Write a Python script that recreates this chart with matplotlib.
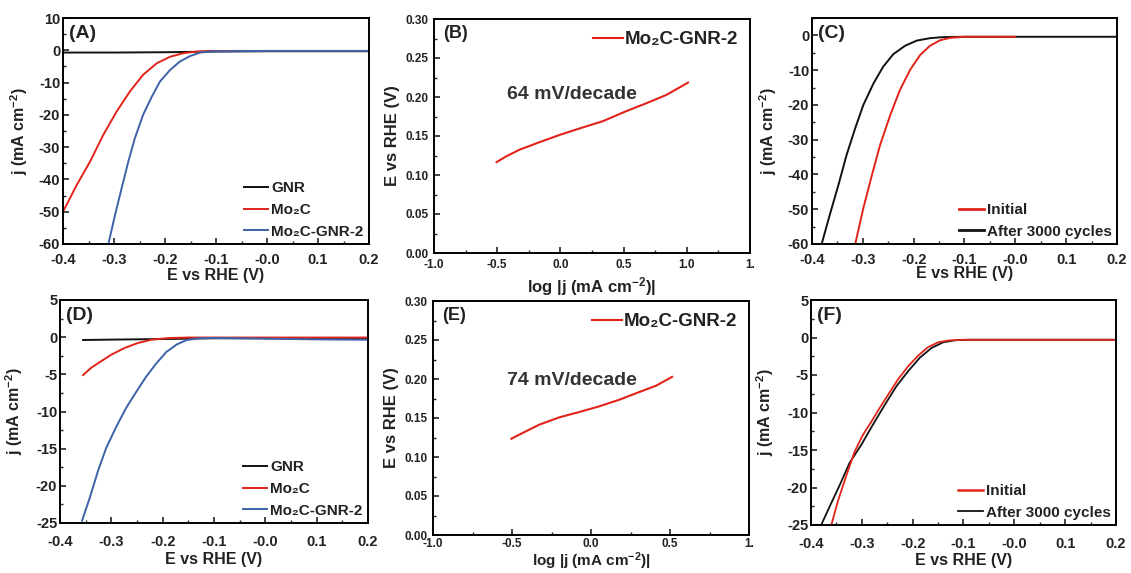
import matplotlib
matplotlib.use('Agg')
import matplotlib.pyplot as plt
import numpy as np
from matplotlib.ticker import MultipleLocator

plt.rcParams['font.family'] = ['Liberation Sans', 'DejaVu Sans']
plt.rcParams['font.weight'] = 'bold'
plt.rcParams['axes.labelweight'] = 'bold'
plt.rcParams['axes.linewidth'] = 1.4
plt.rcParams['axes.unicode_minus'] = False
plt.rcParams['text.color'] = '#222222'
plt.rcParams['axes.labelcolor'] = '#222222'
plt.rcParams['xtick.color'] = '#222222'
plt.rcParams['ytick.color'] = '#222222'
plt.rcParams['mathtext.fontset'] = 'custom'
plt.rcParams['mathtext.rm'] = 'Liberation Sans:bold'
plt.rcParams['mathtext.bf'] = 'Liberation Sans:bold'
plt.rcParams['mathtext.default'] = 'bf'

RED = '#e2231a'
BLUE = '#3d62a8'
BLACK = '#111111'

# ---- (A) polarization curves ----
a_gnr_x = [-0.40, -0.30, -0.20, -0.10, 0.00, 0.10, 0.20]
a_gnr_y = [-0.7, -0.7, -0.6, -0.4, -0.3, -0.3, -0.3]
a_mo_x = [-0.400, -0.373, -0.347, -0.321, -0.295, -0.269, -0.243, -0.216, -0.190,
          -0.164, -0.138, -0.110, 0.0, 0.2]
a_mo_y = [-50.0, -41.7, -34.5, -26.2, -19.0, -12.8, -7.6, -4.0, -2.0,
          -0.9, -0.4, -0.2, -0.2, -0.2]
a_gr_x = [-0.311, -0.298, -0.285, -0.272, -0.259, -0.243, -0.226, -0.210, -0.190,
          -0.171, -0.151, -0.131, -0.105, 0.0, 0.2]
a_gr_y = [-60.0, -51.0, -42.7, -34.5, -27.2, -20.0, -14.4, -9.7, -6.1,
          -3.5, -1.8, -0.7, -0.3, -0.2, -0.2]

# ---- (B) Tafel ----
b_x = [-0.505, -0.431, -0.325, -0.167, 0.005, 0.177, 0.336, 0.508, 0.680, 0.839, 1.01]
b_y = [0.1165, 0.1237, 0.1323, 0.142, 0.152, 0.161, 0.169, 0.181, 0.192, 0.2027, 0.2185]

# ---- (C) stability ----
c_ini_x = [-0.315, -0.299, -0.282, -0.266, -0.246, -0.227, -0.207, -0.187, -0.168,
           -0.148, -0.128, -0.100, 0.0]
c_ini_y = [-60.0, -49.7, -40.1, -31.5, -22.9, -15.7, -9.9, -5.6, -3.0,
           -1.4, -0.7, -0.4, -0.4]
c_aft_x = [-0.381, -0.365, -0.348, -0.332, -0.315, -0.299, -0.279, -0.260, -0.240,
           -0.217, -0.194, -0.168, -0.142, -0.100, 0.0, 0.2]
c_aft_y = [-60.0, -51.6, -43.0, -34.4, -26.7, -20.0, -13.8, -9.0, -5.4,
           -3.0, -1.5, -0.8, -0.5, -0.4, -0.4, -0.4]

# ---- (D) polarization curves ----
d_gnr_x = [-0.355, -0.30, -0.20, -0.10, 0.00, 0.10, 0.20]
d_gnr_y = [-0.38, -0.33, -0.25, -0.15, -0.15, -0.2, -0.25]
d_mo_x = [-0.355, -0.339, -0.319, -0.300, -0.274, -0.248, -0.222, -0.189, -0.15, 0.0, 0.2]
d_mo_y = [-5.1, -4.1, -3.2, -2.35, -1.45, -0.78, -0.34, -0.12, -0.05, -0.05, -0.05]
d_gr_x = [-0.357, -0.342, -0.326, -0.310, -0.290, -0.271, -0.251, -0.232, -0.212,
          -0.193, -0.173, -0.154, -0.131, -0.10, 0.0, 0.1, 0.2]
d_gr_y = [-24.7, -21.6, -18.0, -14.9, -12.0, -9.5, -7.3, -5.3, -3.5,
          -2.0, -1.0, -0.4, -0.15, -0.1, -0.2, -0.3, -0.35]

# ---- (E) Tafel ----
e_x = [-0.504, -0.434, -0.328, -0.201, -0.074, 0.053, 0.180, 0.307, 0.413, 0.513]
e_y = [0.1234, 0.1307, 0.1414, 0.1508, 0.1577, 0.165, 0.1735, 0.1834, 0.1915, 0.2027]

# ---- (F) stability ----
f_ini_x = [-0.360, -0.347, -0.330, -0.314, -0.298, -0.281, -0.265, -0.248, -0.229,
           -0.209, -0.189, -0.170, -0.150, -0.130, -0.10, 0.0, 0.2]
f_ini_y = [-25.0, -21.8, -18.3, -15.2, -13.0, -11.2, -9.4, -7.6, -5.6,
           -3.85, -2.4, -1.3, -0.64, -0.4, -0.3, -0.3, -0.3]
f_aft_x = [-0.380, -0.363, -0.343, -0.324, -0.301, -0.278, -0.255, -0.232, -0.209,
           -0.186, -0.163, -0.140, -0.117, -0.09, 0.0, 0.2]
f_aft_y = [-25.0, -22.5, -19.6, -16.7, -14.3, -11.6, -9.0, -6.5, -4.5,
           -2.7, -1.4, -0.64, -0.37, -0.3, -0.3, -0.3]

W, H = 1131, 573
fig = plt.figure(figsize=(W / 100, H / 100), dpi=100)


def make_ax(l, r, t, b):
    return fig.add_axes([l / W, 1 - b / H, (r - l) / W, (b - t) / H])


def style(ax, size, xpad, ypad):
    ax.tick_params(which='both', direction='in', top=False, right=False, labelsize=size)
    ax.tick_params(axis='x', which='major', pad=xpad)
    ax.tick_params(axis='y', which='major', pad=ypad)
    ax.tick_params(which='major', length=4, width=1.2)
    ax.tick_params(which='minor', length=2, width=1.0)


JLAB = 'j (mA cm$^{-2}$)'
MO = 'Mo\u2082C'
LEG = dict(frameon=False, handlelength=1.6, handletextpad=0.2, borderpad=0.0,
           labelspacing=0.5, borderaxespad=0.35, prop={'weight': 'bold', 'size': 11})


def jv_axes(ax, ylim, ystep, yminor, label, xpad, xlpad, ylpad):
    ax.set_xlim(-0.4, 0.2)
    ax.set_ylim(*ylim)
    ax.xaxis.set_minor_locator(MultipleLocator(0.05))
    ax.yaxis.set_major_locator(MultipleLocator(ystep))
    ax.yaxis.set_minor_locator(MultipleLocator(yminor))
    ticks = np.arange(-0.4, 0.21, 0.1)
    ax.set_xticks(ticks)
    ax.set_xticklabels(['%.1f' % v for v in ticks])
    ax.set_xlabel('E vs RHE (V)', fontsize=11.5, labelpad=xlpad)
    ax.set_ylabel(JLAB, fontsize=11.5, labelpad=ylpad)
    ax.text(0.02, 0.97, label, transform=ax.transAxes, ha='left', va='top',
            fontsize=14, fontweight='bold')
    style(ax, 10.5, xpad, 2)


def tafel_axes(ax, xmax, label, slope_txt, tx, ty, xpad, xlpad, xlsize):
    ax.set_xlim(-1.0, xmax)
    ax.set_ylim(0, 0.30)
    ticks = np.arange(-1.0, xmax + 0.01, 0.5)
    ax.set_xticks(ticks)
    labs = ['%.1f' % v for v in ticks]
    labs[-1] = '1.'
    ax.set_xticklabels(labs)
    ax.xaxis.set_minor_locator(MultipleLocator(0.25))
    yt = np.arange(0, 0.301, 0.05)
    ax.set_yticks(yt)
    ax.set_yticklabels(['%.2f' % v for v in yt])
    ax.yaxis.set_minor_locator(MultipleLocator(0.025))
    ax.set_xlabel('log |j (mA cm$^{-2}$)|', fontsize=xlsize, labelpad=xlpad)
    ax.set_ylabel('E vs RHE (V)', fontsize=12, labelpad=4)
    ax.text(0.03, 0.975, label, transform=ax.transAxes, ha='left', va='top',
            fontsize=13, fontweight='bold')
    ax.text(tx, ty, slope_txt, ha='center', va='center', fontsize=14,
            fontweight='bold', color='#333333')
    style(ax, 8.5, xpad, 4)


# (A)
ax = make_ax(63, 369, 18, 244)
ax.plot(a_gnr_x, a_gnr_y, color=BLACK, lw=1.4, label='GNR')
ax.plot(a_mo_x, a_mo_y, color=RED, lw=1.4, label=MO)
ax.plot(a_gr_x, a_gr_y, color=BLUE, lw=1.4, label=MO + '-GNR-2')
jv_axes(ax, (-60, 10), 10, 5, '(A)', 6.5, 1, 6)
ax.legend(loc='lower right', **LEG)

# (B)
ax = make_ax(434, 750, 19, 253)
ax.plot(b_x, b_y, color=RED, lw=1.5, label=MO + '-GNR-2')
tafel_axes(ax, 1.5, '(B)', '64 mV/decade', 0.09, 0.203, 4, 3, 12)
ax.legend(loc='upper right', frameon=False, handlelength=1.6, handletextpad=0.1,
          borderaxespad=0.25, prop={'weight': 'bold', 'size': 13.5})

# (C)
ax = make_ax(812, 1117, 18, 244)
ax.plot(c_aft_x, c_aft_y, color=BLACK, lw=1.4)
ax.plot(c_ini_x, c_ini_y, color=RED, lw=1.4)
ax.plot([], [], color=RED, lw=2, label='Initial')
ax.plot([], [], color=BLACK, lw=2, label='After 3000 cycles')
jv_axes(ax, (-60, 5), 10, 5, '(C)', 6.5, -1, 6)
ax.legend(loc='lower right', **LEG)

# (D)
ax = make_ax(60, 368, 300, 523)
ax.plot(d_gnr_x, d_gnr_y, color=BLACK, lw=1.4, label='GNR')
ax.plot(d_mo_x, d_mo_y, color=RED, lw=1.4, label=MO)
ax.plot(d_gr_x, d_gr_y, color=BLUE, lw=1.4, label=MO + '-GNR-2')
jv_axes(ax, (-25, 5), 5, 2.5, '(D)', 9, 2, 8)
ax.legend(loc='lower right', **LEG)

# (E)
ax = make_ax(433, 749, 301, 535)
ax.plot(e_x, e_y, color=RED, lw=1.5, label=MO + '-GNR-2')
tafel_axes(ax, 1.0, '(E)', '74 mV/decade', -0.12, 0.198, 2, 0.5, 11)
ax.legend(loc='upper right', frameon=False, handlelength=1.6, handletextpad=0.1,
          borderaxespad=0.25, prop={'weight': 'bold', 'size': 13.5})

# (F)
ax = make_ax(811, 1116, 300, 525)
ax.plot(f_aft_x, f_aft_y, color=BLACK, lw=1.3)
ax.plot(f_ini_x, f_ini_y, color=RED, lw=1.3)
ax.plot([], [], color=RED, lw=1.8, label='Initial')
ax.plot([], [], color=BLACK, lw=1.3, label='After 3000 cycles')
jv_axes(ax, (-25, 5), 5, 2.5, '(F)', 9, 1, 8)
ax.legend(loc='lower right', **LEG)

fig.savefig('out.png', dpi=100)
